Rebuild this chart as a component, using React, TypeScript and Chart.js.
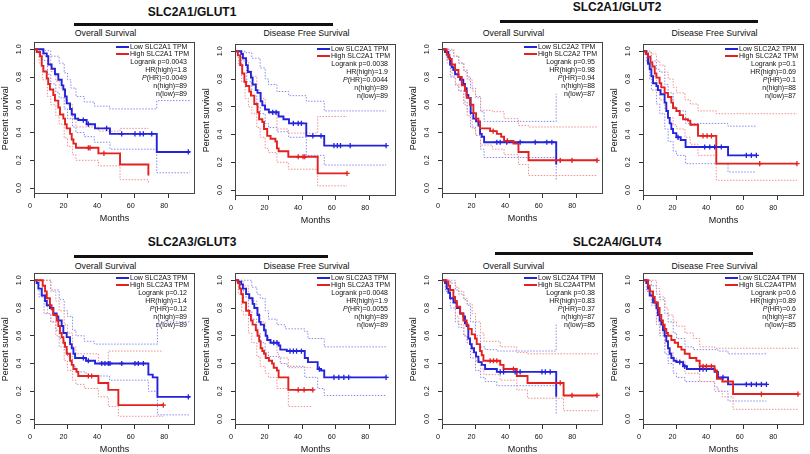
import React, { useEffect, useRef } from "react";
import { Chart, registerables } from "chart.js";
Chart.register(...registerables);

type Pt = [number, number];

const FONT = '"Liberation Sans", Arial, Helvetica, sans-serif';
Chart.defaults.font.family = FONT;

// ---------- axes ----------
const X_TICKS = [0, 20, 40, 60, 80];
const Y_TICKS = [0, 0.2, 0.4, 0.6, 0.8, 1.0];
const X_MIN = 0;
const X_MAX = 96;
const Y_MIN = -0.043;
const Y_MAX = 1.05;

// ---------- titles / labels ----------
const GENES = ["SLC2A1/GLUT1", "SLC2A1/GLUT2", "SLC2A3/GLUT3", "SLC2A4/GLUT4"];
const SURVIVAL_TITLES = ["Overall Survival", "Disease Free Survival"];
const LOW_LABELS = ["Low SLC2A1 TPM", "Low SLC2A2 TPM", "Low SLC2A3 TPM", "Low SLC2A4 TPM"];
const HIGH_LABELS = ["High SLC2A1 TPM", "High SLC2A2 TPM", "High SLC2A3 TPM", "High SLC2A4TPM"];

const GLUT1_OS_STATS = ["Logrank p=0.0043", "HR(high)=1.8", "P(HR)=0.0049", "n(high)=89", "n(low)=89"];
const GLUT1_DFS_STATS = ["Logrank p=0.0038", "HR(high)=1.9", "P(HR)=0.0044", "n(high)=89", "n(low)=89"];
const GLUT2_OS_STATS = ["Logrank p=0.95", "HR(high)=0.98", "P(HR)=0.94", "n(high)=88", "n(low)=87"];
const GLUT2_DFS_STATS = ["Logrank p=0.1", "HR(high)=0.69", "P(HR)=0.1", "n(high)=88", "n(low)=87"];
const GLUT3_OS_STATS = ["Logrank p=0.12", "HR(high)=1.4", "P(HR)=0.12", "n(high)=89", "n(low)=89"];
const GLUT3_DFS_STATS = ["Logrank p=0.0048", "HR(high)=1.9", "P(HR)=0.0055", "n(high)=89", "n(low)=89"];
const GLUT4_OS_STATS = ["Logrank p=0.38", "HR(high)=0.83", "P(HR)=0.37", "n(high)=87", "n(low)=85"];
const GLUT4_DFS_STATS = ["Logrank p=0.6", "HR(high)=0.89", "P(HR)=0.6", "n(high)=87", "n(low)=85"];

// ---------- GLUT1 overall survival ----------
const GLUT1_OS_LOW: Pt[] = [[0,1],[5.6,0.97],[7.6,0.95],[8.5,0.89],[10.5,0.86],[12.5,0.82],[14.5,0.78],[16.5,0.74],[17.5,0.71],[18.5,0.66],[19.5,0.61],[21.5,0.57],[22.5,0.53],[24.5,0.5],[26.4,0.49],[31.4,0.46],[36.4,0.43],[45.3,0.39],[73.2,0.26],[93,0.26]];
const GLUT1_OS_LOW_CENS = [29.4, 32.4, 43.3, 52.3, 60.2, 63.2, 65.2, 70.2, 92];
const GLUT1_OS_HIGH: Pt[] = [[0,1],[1.6,0.98],[3.6,0.95],[4.6,0.88],[5.6,0.84],[7.6,0.79],[8.5,0.75],[9.5,0.71],[11.5,0.67],[12.5,0.63],[14.5,0.58],[15.5,0.53],[17.5,0.5],[18.5,0.46],[19.5,0.43],[21.5,0.39],[22.5,0.35],[23.5,0.32],[25,0.29],[38.4,0.25],[51.3,0.17],[68.2,0.09]];
const GLUT1_OS_HIGH_CENS = [32.4, 33.4, 41.7];
const GLUT1_OS_LOW_UP: Pt[] = [[0,1],[6,0.99],[10,0.95],[15,0.9],[18,0.83],[20,0.78],[22,0.72],[25,0.66],[30,0.62],[36,0.59],[45,0.57],[73.2,0.63],[93,0.63]];
const GLUT1_OS_LOW_LO: Pt[] = [[0,1],[5,0.92],[8,0.82],[10,0.75],[13,0.69],[15,0.65],[18,0.57],[20,0.5],[23,0.44],[25,0.4],[30,0.37],[36,0.33],[45.3,0.28],[73.2,0.11],[93,0.11]];
const GLUT1_OS_HIGH_UP: Pt[] = [[0,1],[4,0.99],[6,0.95],[10,0.84],[13,0.77],[15,0.72],[18,0.64],[20,0.6],[23,0.5],[25,0.44],[38.4,0.41],[51.3,0.43],[68.2,0.43]];
const GLUT1_OS_HIGH_LO: Pt[] = [[0,1],[3,0.9],[5,0.78],[8,0.66],[10,0.6],[13,0.52],[15,0.46],[18,0.36],[20,0.3],[23,0.24],[25,0.2],[38.4,0.16],[51.3,0.06],[68.2,0.03]];

// ---------- GLUT1 disease free survival ----------
const GLUT1_DFS_LOW: Pt[] = [[0,1],[3.7,0.98],[4.7,0.95],[6.6,0.9],[7.6,0.85],[9.5,0.81],[10.5,0.76],[12.4,0.72],[13.4,0.7],[15.3,0.64],[16.3,0.61],[17.9,0.58],[20.2,0.56],[26,0.53],[28.9,0.51],[32.2,0.48],[42.5,0.39],[53.2,0.32],[90.1,0.32]];
const GLUT1_DFS_LOW_CENS = [22.5, 24.5, 34.8, 37.7, 39.6, 46.4, 51.3, 59, 61, 62.9, 68.7, 90.1];
const GLUT1_DFS_HIGH: Pt[] = [[0,1],[1.7,0.97],[3.1,0.9],[4.3,0.84],[5.6,0.78],[6.6,0.75],[8.5,0.71],[9.5,0.68],[11.5,0.62],[13.4,0.56],[14.4,0.51],[16.3,0.49],[17.3,0.44],[19.2,0.39],[21.2,0.37],[24.1,0.35],[25,0.3],[26,0.28],[31.8,0.24],[49.3,0.12],[66.8,0.12]];
const GLUT1_DFS_HIGH_CENS = [37.7, 40.6, 41.6, 66.8];
const GLUT1_DFS_LOW_UP: Pt[] = [[0,1],[6,0.99],[10,0.95],[15,0.88],[18,0.8],[20,0.76],[25,0.71],[32,0.68],[42.5,0.64],[53.2,0.57],[90.1,0.57]];
const GLUT1_DFS_LOW_LO: Pt[] = [[0,1],[4,0.9],[7,0.78],[10,0.68],[13,0.6],[15,0.55],[18,0.48],[20,0.45],[25,0.42],[32,0.38],[42.5,0.25],[53.2,0.18],[90.1,0.18]];
const GLUT1_DFS_HIGH_UP: Pt[] = [[0,1],[3,0.99],[5,0.93],[8,0.86],[10,0.82],[13,0.72],[15,0.66],[18,0.58],[20,0.55],[25,0.44],[31.8,0.41],[49.3,0.53],[66.8,0.53]];
const GLUT1_DFS_HIGH_LO: Pt[] = [[0,1],[2,0.9],[4,0.78],[6,0.66],[8,0.6],[10,0.55],[13,0.45],[15,0.38],[18,0.3],[20,0.27],[25,0.2],[31.8,0.15],[49.3,0.03],[66.8,0.03]];

// ---------- GLUT2 overall survival ----------
const GLUT2_OS_LOW: Pt[] = [[0,1],[1.8,0.98],[3.8,0.94],[4.8,0.89],[5.8,0.87],[6.8,0.85],[7.8,0.82],[9.8,0.8],[10.8,0.78],[12.7,0.75],[13.7,0.72],[14.7,0.67],[15.7,0.65],[17.1,0.54],[18.7,0.5],[20.3,0.48],[21.7,0.45],[22.7,0.39],[23.7,0.37],[25.1,0.33],[68.1,0.17]];
const GLUT2_OS_LOW_CENS = [32.7, 34.7, 38.6, 46.6, 55.6, 62.5, 65.5];
const GLUT2_OS_HIGH: Pt[] = [[0,1],[2.8,0.96],[4.4,0.93],[5.8,0.89],[7.8,0.85],[9.8,0.8],[11.8,0.74],[13.7,0.7],[14.7,0.65],[16.7,0.6],[18.7,0.54],[20.3,0.5],[21.7,0.48],[22.7,0.43],[28.7,0.41],[32.7,0.39],[35.3,0.37],[37,0.34],[42.6,0.32],[45.6,0.26],[51.6,0.2],[92.8,0.2]];
const GLUT2_OS_HIGH_CENS = [30.5, 39, 70.5, 77.5, 92.4];
const GLUT2_OS_LOW_UP: Pt[] = [[0,1],[4,0.99],[7,0.95],[10,0.9],[13,0.85],[15,0.8],[17,0.72],[20,0.66],[23,0.55],[25.1,0.48],[68.1,0.68]];
const GLUT2_OS_LOW_LO: Pt[] = [[0,1],[3,0.92],[5,0.8],[8,0.74],[10,0.7],[13,0.62],[15,0.55],[17,0.44],[20,0.38],[23,0.28],[25.1,0.22],[68.1,0.05]];
const GLUT2_OS_HIGH_UP: Pt[] = [[0,1],[4,1],[7,0.95],[10,0.9],[13,0.84],[15,0.78],[18,0.7],[20,0.65],[23,0.56],[30,0.55],[37,0.5],[45.6,0.45],[51.6,0.44],[92.8,0.44]];
const GLUT2_OS_HIGH_LO: Pt[] = [[0,1],[3,0.9],[6,0.8],[8,0.75],[10,0.7],[13,0.6],[15,0.52],[18,0.43],[20,0.38],[23,0.31],[30,0.28],[37,0.24],[45.6,0.17],[51.6,0.09],[92.8,0.09]];

// ---------- GLUT2 disease free survival ----------
const GLUT2_DFS_LOW: Pt[] = [[0,1],[2,0.98],[3,0.91],[4,0.87],[5,0.82],[6,0.77],[8,0.75],[8.9,0.72],[10.5,0.69],[12.9,0.63],[13.9,0.57],[14.9,0.52],[15.9,0.48],[16.9,0.44],[17.9,0.41],[19.9,0.38],[22.5,0.36],[25.4,0.31],[50.7,0.25],[67.6,0.25]];
const GLUT2_DFS_LOW_CENS = [20.9, 36.8, 39.8, 42.7, 46.7, 61.6, 64.6, 67.6];
const GLUT2_DFS_HIGH: Pt[] = [[0,1],[1.6,0.98],[3,0.96],[4.4,0.92],[5.6,0.89],[7,0.84],[8,0.81],[9.9,0.77],[10.9,0.74],[12.9,0.7],[14.9,0.67],[16.9,0.63],[17.9,0.59],[19.9,0.57],[21.9,0.54],[23.9,0.51],[26.8,0.5],[28.2,0.47],[32.8,0.39],[43.7,0.19],[91.8,0.19]];
const GLUT2_DFS_HIGH_CENS = [35.8, 38.2, 40.8, 69.6, 91.8];
const GLUT2_DFS_LOW_UP: Pt[] = [[0,1],[3,0.99],[5,0.93],[8,0.87],[10,0.85],[13,0.76],[15,0.7],[18,0.6],[20,0.57],[25.4,0.48],[50.7,0.46],[67.6,0.46]];
const GLUT2_DFS_LOW_LO: Pt[] = [[0,1],[2,0.92],[4,0.8],[5,0.72],[8,0.62],[10,0.55],[13,0.44],[15,0.35],[18,0.28],[20,0.25],[25.4,0.19],[50.7,0.13],[67.6,0.13]];
const GLUT2_DFS_HIGH_UP: Pt[] = [[0,1],[5,0.98],[8,0.93],[10,0.9],[13,0.85],[15,0.8],[18,0.74],[20,0.7],[25,0.65],[28.2,0.62],[32.8,0.57],[43.7,0.55],[91.8,0.55]];
const GLUT2_DFS_HIGH_LO: Pt[] = [[0,1],[3,0.92],[5,0.82],[8,0.72],[10,0.65],[13,0.58],[15,0.52],[18,0.47],[20,0.44],[25,0.38],[28.2,0.33],[32.8,0.25],[43.7,0.07],[91.8,0.07]];

// ---------- GLUT3 overall survival ----------
const GLUT3_OS_LOW: Pt[] = [[0,1],[1.6,0.98],[2.6,0.94],[4.6,0.89],[6.6,0.85],[7.6,0.82],[9.5,0.8],[11.5,0.76],[13.5,0.74],[14.5,0.71],[16.5,0.67],[17.5,0.62],[19.5,0.59],[21.5,0.54],[22.5,0.51],[23.5,0.47],[24.5,0.44],[31,0.42],[36.4,0.4],[68.2,0.32],[70.8,0.3],[73.6,0.16],[93,0.16]];
const GLUT3_OS_LOW_CENS = [29.4, 32.4, 40.4, 42.3, 44.3, 45.3, 52.3, 60.2, 62.2, 65.2, 92];
const GLUT3_OS_HIGH: Pt[] = [[0,1],[5.2,0.96],[6.6,0.92],[7.6,0.87],[9.5,0.82],[10.5,0.79],[11.5,0.75],[13.5,0.71],[14.5,0.67],[15.5,0.62],[16.5,0.59],[17.5,0.55],[18.5,0.52],[19.5,0.47],[21.5,0.42],[22.5,0.39],[23.5,0.36],[25.4,0.34],[26.4,0.31],[38.4,0.26],[44.3,0.21],[50.3,0.1],[77.1,0.1]];
const GLUT3_OS_HIGH_CENS = [32.4, 34.4, 77.1];
const GLUT3_OS_LOW_UP: Pt[] = [[0,1],[5,1],[10,0.93],[15,0.86],[18,0.78],[20,0.74],[23,0.64],[25,0.6],[30,0.56],[36,0.54],[73.6,0.7],[93,0.7]];
const GLUT3_OS_LOW_LO: Pt[] = [[0,1],[3,0.88],[6,0.76],[10,0.7],[13,0.64],[15,0.58],[18,0.5],[20,0.45],[23,0.38],[25,0.34],[31,0.31],[45,0.28],[68.2,0.2],[73.6,0.03],[93,0.03]];
const GLUT3_OS_HIGH_UP: Pt[] = [[0,1],[7,1],[10,0.92],[13,0.85],[15,0.78],[18,0.68],[20,0.62],[23,0.52],[25,0.47],[38.4,0.41],[44.3,0.49],[77.1,0.49]];
const GLUT3_OS_HIGH_LO: Pt[] = [[0,1],[5,0.9],[8,0.76],[10,0.7],[13,0.6],[15,0.52],[18,0.42],[20,0.35],[23,0.28],[25,0.25],[30,0.22],[38.4,0.16],[44.3,0.09],[50.3,0.02],[77.1,0.02]];

// ---------- GLUT3 disease free survival ----------
const GLUT3_DFS_LOW: Pt[] = [[0,1],[1.7,0.99],[3.7,0.97],[4.7,0.94],[6.6,0.9],[8.5,0.87],[10.5,0.83],[11.5,0.8],[13.4,0.75],[14.4,0.7],[15.3,0.68],[17.3,0.64],[18.3,0.6],[19.2,0.57],[21.2,0.55],[26,0.53],[27,0.5],[30.9,0.49],[41.6,0.44],[43.5,0.41],[49.3,0.36],[51.3,0.35],[53.2,0.3],[90.1,0.3]];
const GLUT3_DFS_LOW_CENS = [23.1, 25, 32.8, 34.8, 36.7, 39.6, 50.3, 59, 61.9, 64.9, 67.8, 90.1];
const GLUT3_DFS_HIGH: Pt[] = [[0,1],[1.7,0.98],[2.7,0.94],[3.7,0.9],[4.7,0.84],[6.6,0.78],[8.5,0.75],[9.5,0.71],[10.5,0.68],[12.4,0.64],[13.4,0.6],[14.4,0.56],[15.3,0.51],[16.3,0.49],[17.3,0.47],[18.3,0.44],[20.2,0.42],[22.1,0.4],[23.1,0.37],[25,0.35],[26,0.3],[31.8,0.21],[46.4,0.21]];
const GLUT3_DFS_HIGH_CENS = [37.7, 41.2, 46.4];
const GLUT3_DFS_LOW_UP: Pt[] = [[0,1],[5,1],[10,0.95],[13,0.9],[15,0.87],[18,0.78],[20,0.72],[25,0.68],[30,0.65],[41.6,0.63],[43.5,0.58],[53.2,0.52],[90.1,0.52]];
const GLUT3_DFS_LOW_LO: Pt[] = [[0,1],[3,0.93],[5,0.88],[8,0.78],[10,0.72],[13,0.62],[15,0.55],[18,0.48],[20,0.45],[27,0.4],[31,0.38],[41.6,0.3],[49.3,0.22],[53.2,0.17],[90.1,0.17]];
const GLUT3_DFS_HIGH_UP: Pt[] = [[0,1],[3,0.99],[5,0.96],[8,0.88],[10,0.85],[13,0.76],[15,0.7],[18,0.6],[20,0.55],[25,0.48],[26,0.44],[31.8,0.37],[46.4,0.37]];
const GLUT3_DFS_HIGH_LO: Pt[] = [[0,1],[2,0.9],[4,0.78],[5,0.75],[8,0.62],[10,0.55],[13,0.45],[15,0.38],[18,0.33],[20,0.3],[25,0.22],[31.8,0.09],[46.4,0.09]];

// ---------- GLUT4 overall survival ----------
const GLUT4_OS_LOW: Pt[] = [[0,1],[1.8,0.98],[2.8,0.94],[3.8,0.91],[4.8,0.87],[6.8,0.84],[8.8,0.8],[10.8,0.76],[12.7,0.74],[13.7,0.69],[14.7,0.67],[15.7,0.58],[16.7,0.54],[17.7,0.51],[19.1,0.48],[20.3,0.45],[21.7,0.41],[23.7,0.39],[25.7,0.36],[32.7,0.34],[68.1,0.16]];
const GLUT4_OS_LOW_CENS = [34.7, 36.7, 43.6, 46.6, 59.6, 61.6, 64.5];
const GLUT4_OS_HIGH: Pt[] = [[0,1],[2.8,0.99],[3.8,0.96],[4.8,0.93],[6.8,0.88],[7.8,0.85],[8.8,0.81],[10.8,0.76],[12.7,0.71],[14.7,0.68],[15.7,0.65],[17.7,0.61],[19.7,0.58],[20.7,0.54],[22.7,0.49],[23.7,0.46],[24.7,0.42],[34.7,0.39],[36.7,0.36],[44.6,0.31],[51,0.26],[72.5,0.17],[92.8,0.17]];
const GLUT4_OS_HIGH_CENS = [28.7, 30.7, 32.7, 42.6, 70.5, 77.5, 92.4];
const GLUT4_OS_LOW_UP: Pt[] = [[0,1],[3,1],[5,0.98],[8,0.93],[10,0.9],[13,0.86],[15,0.82],[17,0.7],[20,0.6],[23,0.52],[25.7,0.5],[32.7,0.49],[68.1,0.68]];
const GLUT4_OS_LOW_LO: Pt[] = [[0,1],[2,0.92],[5,0.8],[8,0.7],[10,0.66],[13,0.6],[15,0.55],[17,0.44],[20,0.35],[23,0.3],[25.7,0.27],[32.7,0.24],[68.1,0.04]];
const GLUT4_OS_HIGH_UP: Pt[] = [[0,1],[6,1],[8,0.95],[10,0.92],[13,0.87],[15,0.83],[18,0.76],[20,0.7],[23,0.62],[25,0.56],[34.7,0.52],[44.6,0.48],[51,0.47],[92.8,0.46]];
const GLUT4_OS_HIGH_LO: Pt[] = [[0,1],[3,0.95],[5,0.88],[8,0.74],[10,0.68],[13,0.6],[15,0.55],[18,0.48],[20,0.42],[23,0.36],[25,0.32],[34.7,0.28],[44.6,0.21],[51,0.15],[72.5,0.06],[92.8,0.06]];

// ---------- GLUT4 disease free survival ----------
const GLUT4_DFS_LOW: Pt[] = [[0,1],[2,0.98],[3,0.94],[4,0.89],[6,0.84],[8,0.8],[8.9,0.75],[9.9,0.71],[10.9,0.68],[11.9,0.64],[12.9,0.6],[13.9,0.56],[14.9,0.51],[15.9,0.47],[16.9,0.44],[18.3,0.42],[19.9,0.41],[23.9,0.38],[26.2,0.36],[42.7,0.34],[44.7,0.3],[50.7,0.25],[73.6,0.25]];
const GLUT4_DFS_LOW_CENS = [21.9, 24.9, 33.8, 35.8, 37.8, 47.7, 61.6, 64.6, 67.6, 70.6, 73.6];
const GLUT4_DFS_HIGH: Pt[] = [[0,1],[3,0.96],[4,0.92],[6,0.88],[7,0.84],[8.9,0.8],[9.9,0.75],[10.9,0.71],[11.9,0.68],[12.9,0.65],[13.9,0.62],[14.9,0.6],[16.9,0.57],[18.9,0.55],[20.9,0.52],[22.9,0.5],[24.9,0.47],[27.8,0.44],[31.8,0.42],[33.8,0.38],[42.7,0.35],[44.1,0.29],[47.3,0.27],[53.7,0.18],[92.4,0.18]];
const GLUT4_DFS_HIGH_CENS = [35.8, 37.8, 40.8, 70.6, 92.4];
const GLUT4_DFS_LOW_UP: Pt[] = [[0,1],[3,1],[5,0.96],[8,0.9],[10,0.86],[13,0.76],[15,0.7],[18,0.62],[20,0.58],[25,0.52],[30,0.5],[44.7,0.49],[50.7,0.47],[73.6,0.47]];
const GLUT4_DFS_LOW_LO: Pt[] = [[0,1],[2,0.92],[5,0.82],[8,0.68],[10,0.6],[13,0.47],[15,0.4],[18,0.33],[20,0.3],[25,0.27],[42.7,0.23],[44.7,0.2],[50.7,0.13],[73.6,0.13]];
const GLUT4_DFS_HIGH_UP: Pt[] = [[0,1],[5,1],[8,0.94],[10,0.88],[13,0.8],[15,0.75],[18,0.7],[20,0.67],[25,0.62],[30,0.58],[33.8,0.52],[42.7,0.51],[92.4,0.51]];
const GLUT4_DFS_HIGH_LO: Pt[] = [[0,1],[3,0.92],[5,0.85],[8,0.7],[10,0.62],[13,0.53],[15,0.48],[18,0.44],[20,0.42],[25,0.33],[33.8,0.27],[42.7,0.2],[47.3,0.16],[53.7,0.07],[92.4,0.07]];

// ---------- panel table ----------
interface Panel {
  title: string; lowLabel: string; highLabel: string; stats: string[];
  low: Pt[]; high: Pt[]; lowUp: Pt[]; lowLo: Pt[]; highUp: Pt[]; highLo: Pt[];
  lowCens: number[]; highCens: number[];
}
const mkPanel = (g: number, k: number, stats: string[], low: Pt[], lowCens: number[], high: Pt[], highCens: number[], lowUp: Pt[], lowLo: Pt[], highUp: Pt[], highLo: Pt[]): Panel => ({
  title: SURVIVAL_TITLES[k], lowLabel: LOW_LABELS[g], highLabel: HIGH_LABELS[g], stats,
  low, high, lowUp, lowLo, highUp, highLo, lowCens, highCens,
});
const PANELS: Panel[] = [
  mkPanel(0, 0, GLUT1_OS_STATS, GLUT1_OS_LOW, GLUT1_OS_LOW_CENS, GLUT1_OS_HIGH, GLUT1_OS_HIGH_CENS, GLUT1_OS_LOW_UP, GLUT1_OS_LOW_LO, GLUT1_OS_HIGH_UP, GLUT1_OS_HIGH_LO),
  mkPanel(0, 1, GLUT1_DFS_STATS, GLUT1_DFS_LOW, GLUT1_DFS_LOW_CENS, GLUT1_DFS_HIGH, GLUT1_DFS_HIGH_CENS, GLUT1_DFS_LOW_UP, GLUT1_DFS_LOW_LO, GLUT1_DFS_HIGH_UP, GLUT1_DFS_HIGH_LO),
  mkPanel(1, 0, GLUT2_OS_STATS, GLUT2_OS_LOW, GLUT2_OS_LOW_CENS, GLUT2_OS_HIGH, GLUT2_OS_HIGH_CENS, GLUT2_OS_LOW_UP, GLUT2_OS_LOW_LO, GLUT2_OS_HIGH_UP, GLUT2_OS_HIGH_LO),
  mkPanel(1, 1, GLUT2_DFS_STATS, GLUT2_DFS_LOW, GLUT2_DFS_LOW_CENS, GLUT2_DFS_HIGH, GLUT2_DFS_HIGH_CENS, GLUT2_DFS_LOW_UP, GLUT2_DFS_LOW_LO, GLUT2_DFS_HIGH_UP, GLUT2_DFS_HIGH_LO),
  mkPanel(2, 0, GLUT3_OS_STATS, GLUT3_OS_LOW, GLUT3_OS_LOW_CENS, GLUT3_OS_HIGH, GLUT3_OS_HIGH_CENS, GLUT3_OS_LOW_UP, GLUT3_OS_LOW_LO, GLUT3_OS_HIGH_UP, GLUT3_OS_HIGH_LO),
  mkPanel(2, 1, GLUT3_DFS_STATS, GLUT3_DFS_LOW, GLUT3_DFS_LOW_CENS, GLUT3_DFS_HIGH, GLUT3_DFS_HIGH_CENS, GLUT3_DFS_LOW_UP, GLUT3_DFS_LOW_LO, GLUT3_DFS_HIGH_UP, GLUT3_DFS_HIGH_LO),
  mkPanel(3, 0, GLUT4_OS_STATS, GLUT4_OS_LOW, GLUT4_OS_LOW_CENS, GLUT4_OS_HIGH, GLUT4_OS_HIGH_CENS, GLUT4_OS_LOW_UP, GLUT4_OS_LOW_LO, GLUT4_OS_HIGH_UP, GLUT4_OS_HIGH_LO),
  mkPanel(3, 1, GLUT4_DFS_STATS, GLUT4_DFS_LOW, GLUT4_DFS_LOW_CENS, GLUT4_DFS_HIGH, GLUT4_DFS_HIGH_CENS, GLUT4_DFS_LOW_UP, GLUT4_DFS_LOW_LO, GLUT4_DFS_HIGH_UP, GLUT4_DFS_HIGH_LO),
];

// ---------- layout (page pixels) ----------
const BOX_W = 161;
const BOX_H = 154;
const PAD_L = 34;
const PAD_T = 8;
const PAD_R = 4;
const PAD_B = 30;
const CW = PAD_L + BOX_W + PAD_R;
const CH = PAD_T + BOX_H + PAD_B;
const PANEL_BOXES = [
  { left: 34, top: 40 }, { left: 235, top: 42 }, { left: 442, top: 40 }, { left: 643, top: 42 },
  { left: 34, top: 271 }, { left: 235, top: 271 }, { left: 442, top: 271 }, { left: 643, top: 271 },
];
const ROW_TITLE_Y = [33, 266];
const HEADERS = [
  { cx: 192, cy: 12, x1: 74, x2: 333, ly: 24 },
  { cx: 617, cy: 7, x1: 500, x2: 758, ly: 21 },
  { cx: 192, cy: 242, x1: 74, x2: 328, ly: 256 },
  { cx: 617, cy: 242, x1: 495, x2: 753, ly: 253 },
];

const BLUE = "#2323dc";
const RED = "#e3211f";
const BLUE_CI = "#8a8aee";
const RED_CI = "#ef9090";
const INK = "#111";

function survAt(curve: Pt[], t: number): number {
  let s = curve[0][1];
  for (const [tt, ss] of curve) {
    if (tt <= t) s = ss;
    else break;
  }
  return s;
}

const boxPlugin = {
  id: "kmBox",
  afterDraw(chart: any) {
    const { ctx, chartArea: a } = chart;
    ctx.save();
    ctx.strokeStyle = "#444";
    ctx.lineWidth = 1;
    ctx.strokeRect(Math.round(a.left) + 0.5, Math.round(a.top) + 0.5, Math.round(a.right - a.left) - 1, Math.round(a.bottom - a.top) - 1);
    ctx.restore();
  },
};

function makeConfig(p: Panel): any {
  const line = (pts: Pt[], color: string, width: number, dash: number[]) => ({
    data: pts.map(([x, y]) => ({ x, y })),
    showLine: true,
    stepped: true,
    borderColor: color,
    backgroundColor: color,
    borderWidth: width,
    borderDash: dash,
    pointRadius: 0,
    pointHoverRadius: 0,
    fill: false,
  });
  const cens = (times: number[], curve: Pt[], color: string) => ({
    data: times.map((t) => ({ x: t, y: survAt(curve, t) })),
    showLine: false,
    pointStyle: "cross",
    pointRadius: 2.6,
    pointHoverRadius: 2.6,
    pointBorderWidth: 1.3,
    pointBorderColor: color,
    pointBackgroundColor: color,
    borderColor: color,
  });
  const grid = { display: true, drawOnChartArea: false, drawTicks: true, tickLength: 4, color: "#333", tickColor: "#333", lineWidth: 1 };
  return {
    type: "scatter",
    data: {
      datasets: [
        cens(p.highCens, p.high, RED),
        cens(p.lowCens, p.low, BLUE),
        line(p.high, RED, 1.9, []),
        line(p.low, BLUE, 1.9, []),
        line(p.highUp, RED_CI, 1, [1.5, 1.5]),
        line(p.highLo, RED_CI, 1, [1.5, 1.5]),
        line(p.lowUp, BLUE_CI, 1, [1.5, 1.5]),
        line(p.lowLo, BLUE_CI, 1, [1.5, 1.5]),
      ],
    },
    options: {
      animation: false,
      responsive: false,
      events: [],
      layout: { padding: { left: 0, top: PAD_T, right: PAD_R, bottom: 0 } },
      plugins: { legend: { display: false }, tooltip: { enabled: false } },
      scales: {
        x: {
          type: "linear",
          min: X_MIN,
          max: X_MAX,
          afterBuildTicks: (s: any) => { s.ticks = X_TICKS.map((v) => ({ value: v })); },
          afterFit: (s: any) => { s.height = PAD_B; },
          grid,
          border: { display: false },
          ticks: { font: { size: 7.2 }, color: INK, padding: 4, labelOffset: -4, autoSkip: false, maxRotation: 0, callback: (v: any) => String(v) },
          title: { display: true, text: "Months", font: { size: 9 }, color: INK, padding: 0 },
        },
        y: {
          type: "linear",
          min: Y_MIN,
          max: Y_MAX,
          afterBuildTicks: (s: any) => { s.ticks = Y_TICKS.map((v) => ({ value: v })); },
          afterFit: (s: any) => { s.width = PAD_L; },
          grid,
          border: { display: false },
          ticks: { font: { size: 7.2 }, color: INK, padding: 6, minRotation: 90, maxRotation: 90, crossAlign: "center", autoSkip: false, callback: (v: any) => Number(v).toFixed(1) },
          title: { display: true, text: "Percent survival", font: { size: 9 }, color: INK, padding: 0 },
        },
      },
    },
    plugins: [boxPlugin],
  };
}

function renderStat(s: string) {
  if (s.startsWith("P(HR)")) return (<><i>P</i>{s.slice(1)}</>);
  return s;
}

function KMPanel({ panel, box, titleY }: { panel: Panel; box: { left: number; top: number }; titleY: number }) {
  const ref = useRef<HTMLCanvasElement | null>(null);
  useEffect(() => {
    if (!ref.current) return;
    const chart = new Chart(ref.current, makeConfig(panel));
    return () => chart.destroy();
  }, [panel]);
  const txt: React.CSSProperties = { position: "absolute", fontSize: 7, lineHeight: "8px", color: INK, whiteSpace: "nowrap" };
  return (
    <>
      <div style={{ position: "absolute", left: box.left + BOX_W / 2 - 9 - 60, width: 120, top: titleY - 6, lineHeight: "12px", fontSize: 8.8, textAlign: "center", color: INK }}>{panel.title}</div>
      <canvas ref={ref} width={CW} height={CH} style={{ position: "absolute", left: box.left - PAD_L, top: box.top - PAD_T, width: CW, height: CH }} />
      <div style={{ position: "absolute", left: box.left, top: box.top, width: BOX_W, height: BOX_H, pointerEvents: "none" }}>
        <div style={{ position: "absolute", left: BOX_W - 79, top: 6, width: 13, height: 2, background: BLUE }} />
        <div style={{ ...txt, left: BOX_W - 65, top: 3 }}>{panel.lowLabel}</div>
        <div style={{ position: "absolute", left: BOX_W - 79, top: 12.5, width: 13, height: 2, background: RED }} />
        <div style={{ ...txt, left: BOX_W - 65, top: 9.5 }}>{panel.highLabel}</div>
        {panel.stats.map((s, i) => (
          <div key={i} style={{ ...txt, right: 8, top: 18 + i * 8, textAlign: "right" }}>{renderStat(s)}</div>
        ))}
      </div>
    </>
  );
}

export default function App() {
  return (
    <div style={{ position: "fixed", left: 0, top: 0, width: 810, height: 454, background: "#fff", overflow: "hidden", fontFamily: FONT }}>
      {HEADERS.map((h, i) => (
        <React.Fragment key={i}>
          <div style={{ position: "absolute", left: h.cx - 80, width: 160, top: h.cy - 7, lineHeight: "14px", fontSize: 12, fontWeight: "bold", textAlign: "center", color: INK }}>{GENES[i]}</div>
          <div style={{ position: "absolute", left: h.x1, top: h.ly - 1.5, width: h.x2 - h.x1, height: 3, background: "#111" }} />
        </React.Fragment>
      ))}
      {PANELS.map((p, i) => (
        <KMPanel key={i} panel={p} box={PANEL_BOXES[i]} titleY={ROW_TITLE_Y[i < 4 ? 0 : 1]} />
      ))}
    </div>
  );
}
